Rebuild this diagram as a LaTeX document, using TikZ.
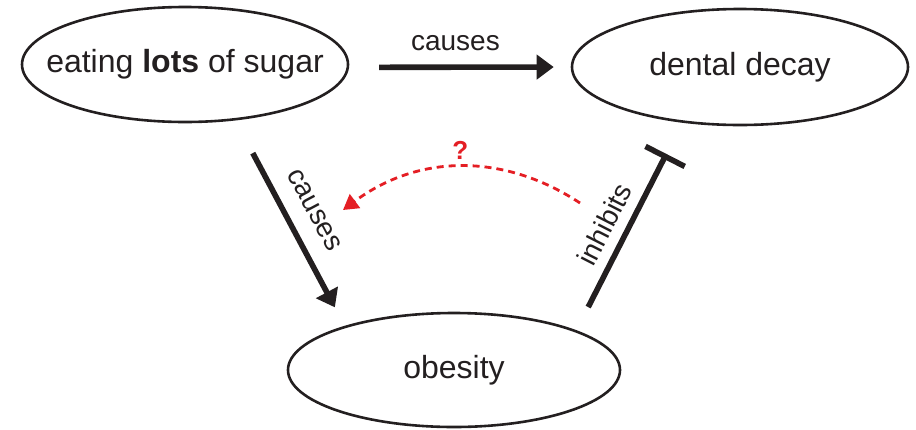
\documentclass[tikz,border=0pt]{standalone}
\usepackage{fontspec}
\setmainfont{Liberation Sans}
\usetikzlibrary{arrows.meta,shapes.geometric}
\definecolor{ink}{RGB}{35,31,32}
\definecolor{qred}{RGB}{228,30,36}
\begin{document}
\begin{tikzpicture}[x=1pt,y=-1pt,
  state/.style={ellipse, draw=ink, line width=2.6pt, inner sep=0pt,
    font=\fontsize{32}{38}\selectfont, text=ink},
  link/.style={draw=ink, line width=5.6pt},
  causetip/.style={-{Triangle[length=17pt,width=24pt]}},
  inhibittip/.style={-{Bar[width=44pt]}},
  linklabel/.style={font=\fontsize{28}{33}\selectfont, text=ink, inner sep=0pt},
  unknown/.style={draw=qred, line width=2.8pt, dash pattern=on 7pt off 5pt,
    -{Triangle[length=15pt,width=17pt]}},
]
\useasboundingbox (0,0) rectangle (916,429);

% the three states
\node[state, minimum width=326pt, minimum height=115pt] (sugar) at (185,64.5)
  {\makebox[0pt]{eating \textbf{lots} of sugar}};
\node[state, minimum width=336pt, minimum height=116pt] (decay) at (740,67)
  {\makebox[0pt]{dental decay}};
\node[state, minimum width=332pt, minimum height=114pt] (obesity) at (454,370)
  {\makebox[0pt]{obesity}};

% sugar causes decay
\draw[link, causetip, shorten <=30pt, shorten >=17pt]
  (sugar.-1) -- node[linklabel, pos=0.48, above=14pt] {causes} (decay.180);

% sugar causes obesity
\draw[link, causetip, shorten <=37pt, shorten >=21pt]
  (sugar.-48) -- node[linklabel, sloped, midway, above=17pt] {causes} (obesity.158);

% obesity inhibits decay
\draw[link, inhibittip, shorten <=26pt, shorten >=35pt]
  (obesity.18) -- node[linklabel, sloped, pos=0.46, above=10pt] {inhibits} (decay.224);

% open question: does obesity feed back on sugar intake?
\coordinate (qfrom) at (580,203);
\coordinate (qto) at (343,210);
\draw[unknown] (qfrom) to[bend right=35]
  node[midway, above=6pt, inner sep=0pt, text=qred,
       font=\fontsize{26}{30}\selectfont\bfseries] {?} (qto);
\end{tikzpicture}
\end{document}
